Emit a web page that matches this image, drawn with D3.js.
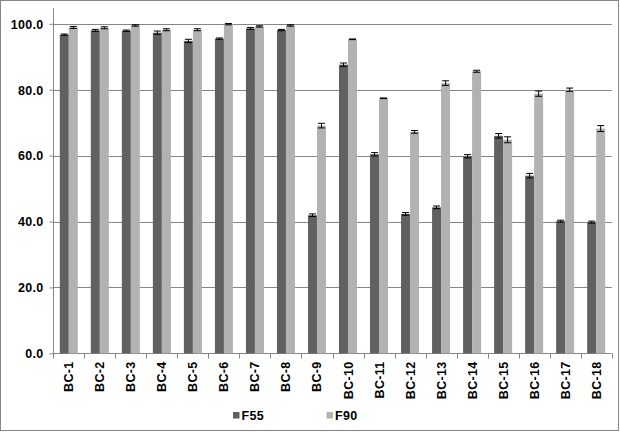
<!DOCTYPE html>
<html lang="en">
<head>
    <meta charset="UTF-8">
    <title>F55 / F90</title>
    <script src="https://d3js.org/d3.v7.min.js"></script>
    <style>
        body { margin: 0; background: #fff; }
        text { font-family: "Liberation Sans", Arial, sans-serif; font-weight: bold; fill: #000; letter-spacing: 0.3px; }
    </style>
</head>
<body>
    <script>
        // data
        const categories = ["BC-1", "BC-2", "BC-3", "BC-4", "BC-5", "BC-6", "BC-7", "BC-8", "BC-9",
            "BC-10", "BC-11", "BC-12", "BC-13", "BC-14", "BC-15", "BC-16", "BC-17", "BC-18"];
        const seriesNames = ["F55", "F90"];
        const f55 = [96.7, 98.0, 97.9, 97.3, 94.8, 95.5, 98.6, 98.1, 41.9, 87.6, 60.4, 42.3, 44.3, 59.8, 66.0, 53.9, 40.1, 39.8];
        const f90 = [98.9, 98.8, 99.5, 98.2, 98.2, 99.9, 99.2, 99.5, 69.1, 95.3, 77.4, 67.2, 82.0, 85.6, 64.8, 78.8, 80.0, 68.2];
        const f55Err = [0.2, 0.3, 0.2, 0.5, 0.5, 0.2, 0.3, 0.2, 0.4, 0.5, 0.5, 0.4, 0.4, 0.5, 0.7, 0.7, 0.3, 0.3];
        const f90Err = [0.3, 0.3, 0.2, 0.3, 0.3, 0.2, 0.2, 0.2, 0.7, 0.1, 0.1, 0.4, 0.7, 0.3, 0.9, 0.8, 0.5, 0.9];
        const yTicks = [0, 20, 40, 60, 80, 100];

        const colors = { F55: "#606060", F90: "#b2b2b2" };
        const grey = "#868686";
        const fontSize = 12.5;

        const width = 620, height = 432;
        const plotLeft = 53.3, plotRight = 611.7, plotBottom = 353.3, plotTop = 23.8, axisTop = 8;

        const svg = d3.select("body").append("svg")
            .attr("width", width)
            .attr("height", height);

        // outer chart border
        svg.append("rect")
            .attr("x", 0.5).attr("y", 0.5)
            .attr("width", 618).attr("height", 430)
            .attr("fill", "none").attr("stroke", grey);

        const x = d3.scaleBand().domain(categories).range([plotLeft, plotRight]).padding(0);
        const x1 = d3.scaleBand().domain(seriesNames).range([6.5, 24.5]).padding(0);
        const y = d3.scaleLinear().domain([0, 100]).range([plotBottom, plotTop]);

        // gridlines
        svg.append("g")
            .selectAll("line")
            .data(yTicks.filter(d => d > 0))
            .enter().append("line")
            .attr("x1", plotLeft).attr("x2", plotRight)
            .attr("y1", d => Math.round(y(d)) + 0.5)
            .attr("y2", d => Math.round(y(d)) + 0.5)
            .attr("stroke", grey);

        // y axis
        const yAxis = svg.append("g")
            .attr("transform", `translate(${Math.round(plotLeft) + 0.5},0)`)
            .call(d3.axisLeft(y).tickValues(yTicks).tickFormat(d3.format(".1f")).tickSize(4).tickPadding(6));
        yAxis.select(".domain").remove();
        yAxis.selectAll(".tick line").attr("stroke", grey);
        yAxis.selectAll(".tick text").attr("font-size", fontSize).attr("dy", "0.35em");
        yAxis.append("line")
            .attr("y1", axisTop).attr("y2", plotBottom)
            .attr("stroke", grey);

        // x axis
        const xAxis = svg.append("g")
            .attr("transform", `translate(0,${Math.round(plotBottom) + 0.5})`);
        xAxis.append("line")
            .attr("x1", plotLeft).attr("x2", plotRight)
            .attr("stroke", grey);
        xAxis.selectAll(".xtick")
            .data(categories.concat(["end"]))
            .enter().append("line")
            .attr("x1", (d, i) => Math.round(plotLeft + i * x.step()) + 0.5)
            .attr("x2", (d, i) => Math.round(plotLeft + i * x.step()) + 0.5)
            .attr("y1", 0).attr("y2", 5)
            .attr("stroke", grey);
        xAxis.selectAll(".xlabel")
            .data(categories)
            .enter().append("text")
            .attr("transform", d => `translate(${x(d) + x.bandwidth() / 2 + 4.5},8) rotate(-90)`)
            .attr("text-anchor", "end")
            .attr("font-size", fontSize)
            .text(d => d);

        // bars
        const rows = categories.map((c, i) => ({
            cat: c,
            vals: [
                { key: "F55", v: f55[i], e: f55Err[i] },
                { key: "F90", v: f90[i], e: f90Err[i] }
            ]
        }));

        const groups = svg.append("g")
            .selectAll("g")
            .data(rows)
            .enter().append("g")
            .attr("transform", d => `translate(${x(d.cat)},0)`);

        groups.selectAll("rect")
            .data(d => d.vals)
            .enter().append("rect")
            .attr("x", d => x1(d.key))
            .attr("y", d => y(d.v))
            .attr("width", x1.bandwidth())
            .attr("height", d => plotBottom - y(d.v))
            .attr("fill", d => colors[d.key]);

        // error bars
        const errs = groups.selectAll(".err")
            .data(d => d.vals)
            .enter().append("g");
        const cx = d => x1(d.key) + x1.bandwidth() / 2;
        errs.append("line")
            .attr("x1", cx).attr("x2", cx)
            .attr("y1", d => y(d.v + d.e)).attr("y2", d => y(d.v - d.e))
            .attr("stroke", "#000");
        errs.selectAll(".cap")
            .data(d => [{ d: d, v: d.v + d.e }, { d: d, v: d.v - d.e }])
            .enter().append("line")
            .attr("x1", c => cx(c.d) - 3.5).attr("x2", c => cx(c.d) + 3.5)
            .attr("y1", c => y(c.v)).attr("y2", c => y(c.v))
            .attr("stroke", "#000");

        // legend
        const legend = svg.append("g");
        const legendX = [233, 326.5];
        seriesNames.forEach((s, i) => {
            legend.append("rect")
                .attr("x", legendX[i]).attr("y", 412)
                .attr("width", 6.5).attr("height", 6.5)
                .attr("fill", colors[s]);
            legend.append("text")
                .attr("x", legendX[i] + 8.5).attr("y", 419.5)
                .attr("font-size", fontSize)
                .text(s);
        });
    </script>
</body>
</html>
